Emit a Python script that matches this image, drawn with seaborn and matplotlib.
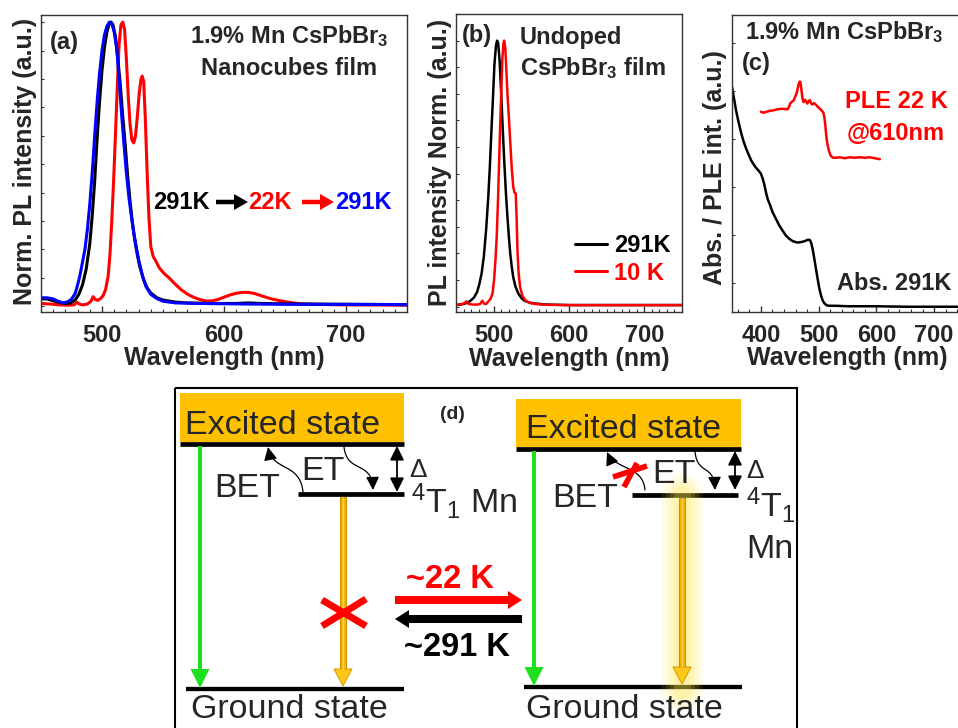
import matplotlib
matplotlib.use("Agg")
import matplotlib.pyplot as plt
import seaborn as sns
from matplotlib.patches import Rectangle, FancyArrow, FancyArrowPatch, Polygon
from matplotlib.path import Path
from matplotlib.ticker import MultipleLocator, NullFormatter

# ---------------------------------------------------------------- data
# (a) 1.9 % Mn CsPbBr3 nanocube film, normalised PL
wl_a_291k = [450, 455, 460, 465, 470, 474, 478, 481, 484, 487, 490, 492, 494, 496,
             498, 500, 502, 504, 506, 507.5, 509, 511, 513, 515, 517, 519, 521, 523,
             525, 527, 529, 531, 534, 537, 540, 545, 550, 560, 570, 590, 610, 620,
             630, 660, 700, 750]
pl_a_291k = [0.026, 0.026, 0.020, 0.014, 0.010, 0.011, 0.022, 0.042, 0.075, 0.13,
             0.22, 0.32, 0.44, 0.59, 0.72, 0.83, 0.91, 0.965, 0.995, 1.0, 0.99, 0.95,
             0.87, 0.78, 0.67, 0.57, 0.46, 0.37, 0.29, 0.23, 0.18, 0.14, 0.095, 0.065,
             0.047, 0.03, 0.022, 0.015, 0.012, 0.010, 0.010, 0.012, 0.010, 0.008,
             0.007, 0.006]

wl_a_22k = [450, 458, 466, 472, 477, 479.5, 481.5, 484, 488, 491, 492.7, 494.5, 496.5,
            499, 501, 503, 505, 506.5, 508, 509.5, 511, 512.5, 514, 515.5, 517, 518.5,
            520, 521.5, 523, 524.5, 526, 527.5, 529, 530.5, 532, 533, 534.2, 535.5,
            537, 538.5, 540, 542, 544, 547, 551, 555, 560, 565, 570, 575, 580, 585,
            590, 595, 600, 605, 610, 615, 620, 625, 630, 635, 640, 648, 655, 662, 675,
            700, 725, 750]
pl_a_22k = [0.010, 0.008, 0.005, 0.004, 0.005, 0.014, 0.008, 0.005, 0.008, 0.018,
            0.034, 0.024, 0.021, 0.028, 0.038, 0.06, 0.105, 0.18, 0.30, 0.44, 0.60,
            0.77, 0.92, 0.99, 1.0, 0.975, 0.87, 0.74, 0.64, 0.585, 0.575, 0.60, 0.67,
            0.75, 0.80, 0.81, 0.79, 0.66, 0.47, 0.31, 0.21, 0.175, 0.16, 0.135, 0.115,
            0.10, 0.078, 0.058, 0.043, 0.032, 0.024, 0.019, 0.019, 0.024, 0.032,
            0.040, 0.046, 0.049, 0.049, 0.045, 0.038, 0.031, 0.025, 0.018, 0.013,
            0.009, 0.007, 0.005, 0.005, 0.004]

wl_a_back = [450, 455, 460, 464, 468, 472, 475, 478, 480, 482, 484, 486, 488, 490, 492,
             494, 496, 498, 500, 502, 504, 506, 508, 510, 512, 514, 516, 518, 520, 522,
             524, 526, 528, 530, 533, 536, 540, 545, 550, 560, 580, 620, 660, 700, 750]
pl_a_back = [0.030, 0.030, 0.026, 0.018, 0.012, 0.016, 0.025, 0.045, 0.075, 0.11,
             0.155, 0.20, 0.27, 0.36, 0.47, 0.60, 0.72, 0.82, 0.90, 0.955, 0.985, 1.0,
             0.995, 0.965, 0.91, 0.80, 0.68, 0.57, 0.47, 0.385, 0.32, 0.26, 0.21,
             0.165, 0.11, 0.07, 0.042, 0.027, 0.018, 0.012, 0.010, 0.008, 0.007,
             0.007, 0.006]

# (b) undoped CsPbBr3 film
wl_b_291k = [450, 460, 466, 470, 474, 478, 481, 484, 487, 490, 492.8, 495, 497, 499,
             501, 503, 504.5, 506, 508, 510, 512, 514, 516, 518, 520, 522, 524, 526,
             529, 533, 537, 541, 548, 555, 570, 600, 650, 700, 750]
pl_b_291k = [0.006, 0.010, 0.016, 0.024, 0.035, 0.055, 0.085, 0.125, 0.19, 0.29, 0.41,
             0.53, 0.66, 0.78, 0.91, 0.98, 1.0, 0.99, 0.92, 0.80, 0.67, 0.55, 0.44,
             0.35, 0.27, 0.20, 0.15, 0.11, 0.075, 0.048, 0.032, 0.022, 0.015, 0.012,
             0.008, 0.006, 0.006, 0.006, 0.006]
wl_b_10k = [450, 457, 461, 464, 467, 472, 478, 482, 485, 487.5, 490, 493, 496, 498.5,
            500.5, 502.5, 504, 506, 508, 510, 511.5, 513, 514, 515.5, 517, 518.5, 520,
            522, 524, 526, 527.5, 529.3, 530.5, 531.5, 533, 535, 538, 542, 548, 555,
            570, 600, 650, 700, 750]
pl_b_10k = [0.006, 0.009, 0.013, 0.020, 0.010, 0.008, 0.008, 0.010, 0.022, 0.011,
            0.010, 0.020, 0.030, 0.05, 0.10, 0.18, 0.26, 0.42, 0.62, 0.80, 0.93, 0.99,
            1.0, 0.97, 0.88, 0.79, 0.72, 0.62, 0.52, 0.45, 0.43, 0.425, 0.33, 0.22,
            0.13, 0.075, 0.042, 0.024, 0.014, 0.010, 0.007, 0.006, 0.006, 0.006, 0.006]

# (c) absorption at 291 K and PLE at 22 K (detected at 610 nm)
wl_c_abs = [350, 354, 357, 360, 363, 366, 370, 374.5, 379, 383, 387, 391, 396, 400,
            403, 406, 409, 412, 416, 420, 425, 431.7, 437, 443, 449, 455, 463, 470,
            476, 481.7, 485, 487.5, 490, 492, 495, 498, 501, 504, 507, 510, 514, 518,
            530, 550, 600, 650, 700, 750]
abs_c = [0.509, 0.481, 0.460, 0.443, 0.427, 0.412, 0.395, 0.380, 0.367, 0.356, 0.348,
         0.341, 0.334, 0.328, 0.318, 0.305, 0.288, 0.274, 0.262, 0.248, 0.236, 0.220,
         0.210, 0.199, 0.192, 0.187, 0.184, 0.185, 0.187, 0.190, 0.189, 0.182, 0.168,
         0.154, 0.132, 0.110, 0.090, 0.074, 0.063, 0.057, 0.053, 0.052, 0.052, 0.051,
         0.051, 0.050, 0.050, 0.050]
wl_c_ple = [400, 404.6, 410, 416, 422, 428, 434, 440, 446, 449, 451, 454, 457, 460,
            462.5, 465, 467, 468.5, 470.3, 472, 474, 476.5, 478.5, 480.5, 483, 485, 487,
            489, 492, 495, 498, 501.5, 505, 508.3, 510, 511.5, 513, 514.5, 516, 518,
            521, 525, 530, 537, 545, 554, 562, 571, 580, 589, 597, 606]
ple_c = [0.457, 0.455, 0.457, 0.459, 0.460, 0.462, 0.463, 0.463, 0.462, 0.468, 0.475,
         0.478, 0.481, 0.490, 0.498, 0.513, 0.520, 0.519, 0.502, 0.485, 0.477, 0.482,
         0.478, 0.474, 0.480, 0.481, 0.475, 0.472, 0.475, 0.472, 0.468, 0.464, 0.460,
         0.455, 0.445, 0.430, 0.410, 0.395, 0.385, 0.375, 0.365, 0.361, 0.361, 0.362,
         0.360, 0.362, 0.361, 0.362, 0.361, 0.362, 0.360, 0.358]

# ---------------------------------------------------------------- style
sns.set_theme(style="ticks")
plt.rcParams["font.family"] = ["Liberation Sans", "DejaVu Sans"]
plt.rcParams["font.weight"] = "bold"
plt.rcParams["axes.labelweight"] = "bold"
plt.rcParams["mathtext.default"] = "regular"

W, H = 958, 728
fig = plt.figure(figsize=(W / 100, H / 100), dpi=100)
fig.patch.set_facecolor("white")


def box(left, top, right, bottom):
    return [left / W, 1 - bottom / H, (right - left) / W, (bottom - top) / H]


def style_panel(ax, xlim, ylim, xminor, ystep, ylabel, ylab_xy):
    ax.set_xlim(*xlim)
    ax.set_ylim(*ylim)
    ax.xaxis.set_major_locator(MultipleLocator(100))
    ax.xaxis.set_minor_locator(MultipleLocator(xminor))
    ax.yaxis.set_major_locator(MultipleLocator(ystep))
    ax.yaxis.set_major_formatter(NullFormatter())
    ax.tick_params(axis="both", which="both", direction="in", top=False, right=False,
                   color="#333333")
    ax.tick_params(axis="x", which="major", length=4, width=1, labelsize=17, pad=8.5)
    ax.tick_params(axis="x", which="minor", length=2.0, width=0.8)
    ax.tick_params(axis="y", which="major", length=2.2, width=0.8)
    for s in ax.spines.values():
        s.set_visible(True)
        s.set_linewidth(1.0)
        s.set_color("#333333")
    ax.set_xlabel("Wavelength (nm)", fontsize=18)
    ax.set_ylabel(ylabel, fontsize=18)
    ax.xaxis.set_label_coords(0.5, -0.116)
    ax.yaxis.set_label_coords(*ylab_xy)


# ---------------------------------------------------------------- (a)
ax_a = fig.add_axes(box(41, 15, 407, 312))
sns.lineplot(x=wl_a_22k, y=pl_a_22k, ax=ax_a, color="#ff0000", linewidth=2.2)
sns.lineplot(x=wl_a_291k, y=pl_a_291k, ax=ax_a, color="#000000", linewidth=2.2)
sns.lineplot(x=wl_a_back, y=pl_a_back, ax=ax_a, color="#0000ff", linewidth=2.2)
style_panel(ax_a, (450, 750), (-0.02, 1.025), 10, 0.1,
            "Norm. PL intensity (a.u.)", (-0.01, 0.507))

# ---------------------------------------------------------------- (b)
ax_b = fig.add_axes(box(456, 14, 682, 312))
sns.lineplot(x=wl_b_291k, y=pl_b_291k, ax=ax_b, color="#000000", linewidth=1.8, label="291K")
sns.lineplot(x=wl_b_10k, y=pl_b_10k, ax=ax_b, color="#ff0000", linewidth=1.8, label="10 K")
style_panel(ax_b, (450, 750), (-0.02, 1.1), 10, 0.1,
            "PL intensity Norm. (a.u.)", (-0.018, 0.502))
leg = ax_b.legend(loc="upper left", bbox_to_anchor=(575 / W, 1 - 234 / H),
                  bbox_transform=fig.transFigure, frameon=False, fontsize=17,
                  handlelength=1.36, handletextpad=0.3, labelspacing=0.2,
                  borderpad=0, borderaxespad=0, labelcolor="linecolor")
for line in leg.get_lines():
    line.set_linewidth(2.2)

# ---------------------------------------------------------------- (c)
ax_c = fig.add_axes(box(732, 15, 963, 312))
sns.lineplot(x=wl_c_abs, y=abs_c, ax=ax_c, color="#000000", linewidth=1.8)
sns.lineplot(x=wl_c_ple, y=ple_c, ax=ax_c, color="#ff0000", linewidth=1.8)
style_panel(ax_c, (350, 750), (0.039, 0.659), 20, 0.1,
            "Abs. / PLE int. (a.u.)", (-0.022, 0.487))

# ---------------------------------------------------------------- overlay in pixel units
ov = fig.add_axes([0, 0, 1, 1])
ov.set_xlim(0, W)
ov.set_ylim(H, 0)
ov.axis("off")

RED = "#ff0000"
tk = dict(fontsize=17, fontweight="bold", va="baseline")

# panel texts
ov.text(50, 49, "(a)", ha="left", **tk)
ov.text(289, 43, "1.9% Mn CsPbBr$_3$", ha="center", **tk)
ov.text(289, 75, "Nanocubes film", ha="center", **tk)
ov.text(153, 209, "291K", ha="left", color="black", **tk)
ov.text(248, 209, "22K", ha="left", color=RED, **tk)
ov.text(335, 209, "291K", ha="left", color="#0000ff", **tk)
ov.add_patch(FancyArrow(216, 202, 32, 0, width=4.5, head_width=16, head_length=14,
                        length_includes_head=True, color="black", lw=0))
ov.add_patch(FancyArrow(302, 202, 32, 0, width=4.5, head_width=16, head_length=14,
                        length_includes_head=True, color=RED, lw=0))

ov.text(462, 42, "(b)", ha="left", **tk)
ov.text(520, 44, "Undoped", ha="left", **tk)
ov.text(520, 75, "CsPbBr$_3$ film", ha="left", **tk)

ov.text(745, 39, "1.9% Mn CsPbBr$_3$", ha="left", **tk)
ov.text(742, 70, "(c)", ha="left", **tk)
ov.text(845, 108, "PLE 22 K", ha="left", color=RED, **tk)
ov.text(847, 140, "@610nm", ha="left", color=RED, **tk)
ov.text(837, 290, "Abs. 291K", ha="left", **tk)

# ---------------------------------------------------------------- (d) energy diagram
ov.add_patch(Rectangle((175, 388), 622, 360, fill=False, ec="black", lw=1.5))
ov.text(452, 419, "(d)", ha="center", fontsize=14, fontweight="bold", va="baseline")

GOLD = "#ffc000"
GREEN = "#1fe01f"
LW_LEVEL = 3.4
nk = dict(fontsize=24.5, fontweight="normal", va="baseline", ha="left")
dk = dict(fontsize=19, fontweight="normal", va="baseline", ha="left")


def level(x0, x1, y, lw=LW_LEVEL):
    ov.plot([x0, x1], [y, y], color="black", lw=lw, solid_capstyle="butt")


def green_arrow(x, y0, y1):
    ov.add_patch(FancyArrow(x, y0, 0, y1 - y0, width=4, head_width=19, head_length=19,
                            length_includes_head=True, color=GREEN, lw=0, zorder=3))


def mn_arrow(x, y0, y1):
    hl = 17
    ov.add_patch(Rectangle((x - 3, y0), 6, y1 - y0 - hl, fc="#f2b300", ec="#c98f00",
                           lw=0.7, zorder=4))
    ov.plot([x, x], [y0, y1 - hl], color="#ffd24a", lw=1.0, zorder=5)
    ov.add_patch(Polygon([(x - 9, y1 - hl), (x + 9, y1 - hl), (x, y1)], closed=True,
                         fc="#ffc81a", ec="#d9a000", lw=0.8, zorder=4))


def curly(p0, p1, p2, p3):
    path = Path([p0, p1, p2, p3], [Path.MOVETO, Path.CURVE4, Path.CURVE4, Path.CURVE4])
    ov.add_patch(FancyArrowPatch(path=path, arrowstyle="-|>,head_length=0.8,head_width=0.4",
                                 mutation_scale=10, lw=0.9, color="black", zorder=6))


def gap_arrow(x, y0, y1):
    ov.add_patch(FancyArrowPatch((x, y0), (x, y1),
                                 arrowstyle="<|-|>,head_length=0.6,head_width=0.3",
                                 mutation_scale=14, lw=1.3, color="black",
                                 shrinkA=0, shrinkB=0, zorder=6))


def red_cross(segments, lw):
    for (xa, ya), (xb, yb) in segments:
        ov.plot([xa, xb], [ya, yb], color=RED, lw=lw, solid_capstyle="butt", zorder=7)


# left scheme (~291 K)
ov.add_patch(Rectangle((180, 393), 224, 49, fc=GOLD, ec="none"))
level(180, 404, 444)
level(298, 404, 494)
level(186, 404, 689, lw=3.1)
ov.text(185, 434, "Excited state", **nk)
ov.text(214, 497, "BET", **nk)
ov.text(301, 480, "ET", **nk)
ov.text(409, 477, "Δ", **dk)
ov.text(411, 513, "$^{4}$T$_{1}$ Mn", **nk)
ov.text(191, 718, "Ground state", **nk)
green_arrow(200, 446, 688)
mn_arrow(343, 497, 686)
curly((303, 492), (300, 462), (273, 472), (268, 447))
curly((344, 447), (347, 474), (372, 460), (373, 490))
gap_arrow(397, 446, 492)
red_cross([((322, 600), (366, 626)), ((322, 626), (366, 599))], 5)

# right scheme (~22 K)
ov.add_patch(Rectangle((516, 399), 225, 48, fc=GOLD, ec="none"))
level(516, 741, 449)
level(632, 738, 495)
level(524, 742, 687, lw=3.1)
for glow_lw, glow_a in [(30, 0.10), (24, 0.12), (18, 0.15), (12, 0.2)]:
    ov.plot([682, 682], [494, 690], color="#ffe94a", lw=glow_lw, alpha=glow_a,
            solid_capstyle="round", zorder=3)
ov.text(526, 438, "Excited state", **nk)
ov.text(552, 507, "BET", **nk)
ov.text(652, 483, "ET", **nk)
ov.text(746, 478, "Δ", **dk)
ov.text(746, 517, "$^{4}$T$_{1}$", **nk)
ov.text(746, 558, "Mn", **nk)
ov.text(526, 718, "Ground state", **nk)
green_arrow(534, 451, 686)
mn_arrow(682, 498, 684)
curly((645, 490), (643, 465), (615, 470), (607, 452))
curly((695, 451), (697, 476), (714, 463), (715, 490))
gap_arrow(735, 451, 490)
red_cross([((613, 477), (647, 466)), ((624, 487), (637, 463))], 4)

# temperature switching arrows
ov.add_patch(FancyArrow(395, 600, 127, 0, width=8, head_width=18, head_length=14,
                        length_includes_head=True, color=RED, lw=0))
ov.add_patch(FancyArrow(522, 619, -127, 0, width=8, head_width=18, head_length=14,
                        length_includes_head=True, color="black", lw=0))
ov.text(450, 588, "~22 K", ha="center", va="baseline", fontsize=23.5, fontweight="bold",
        color=RED)
ov.text(457, 656, "~291 K", ha="center", va="baseline", fontsize=23.5, fontweight="bold",
        color="black")

fig.savefig("out.png", dpi=100, facecolor="white")
